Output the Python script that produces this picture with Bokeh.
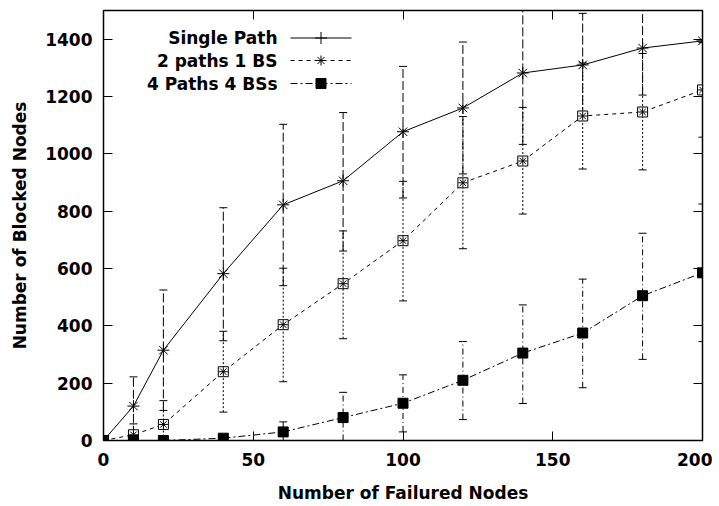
from bokeh.plotting import figure
from bokeh.models import LinearAxis, Range1d, FixedTicker, ColumnDataSource, CustomJSTickFormatter
from bokeh.embed import file_html
from bokeh.resources import INLINE
from bokeh.core.properties import value

# ---------------- data ----------------
failed_nodes = [0, 10, 20, 40, 60, 80, 100, 120, 140, 160, 180, 200]

single_mean = [0, 120, 315, 582, 822, 906, 1077, 1160, 1282, 1310, 1369, 1394]
single_lo = [0, 20, 105, 348, 540, 661, 846, 930, 1033, 1130, 1205, 1230]
single_hi = [0, 222, 525, 812, 1103, 1144, 1305, 1390, 1530, 1490, 1535, 1560]

two_mean = [0, 20, 56, 240, 404, 547, 697, 899, 975, 1132, 1146, 1223]
two_lo = [0, 0, 0, 99, 205, 355, 487, 669, 790, 947, 944, 1058]
two_hi = [0, 58, 139, 381, 601, 731, 904, 1130, 1162, 1317, 1350, 1388]

four_mean = [0, 0, 0, 8, 30, 80, 130, 210, 305, 375, 505, 585]
four_lo = [0, 0, 0, 0, 0, 0, 30, 73, 129, 184, 283, 345]
four_hi = [0, 0, 0, 20, 65, 168, 229, 345, 473, 563, 723, 825]

legend_labels = ["Single Path", "2 paths 1 BS", "4 Paths 4 BSs"]
x_ticks = [0, 50, 100, 150, 200]
y_ticks = [0, 200, 400, 600, 800, 1000, 1200, 1400]
x_title = "Number of Failured Nodes"
y_title = "Number of Blocked Nodes"

FONT = "DejaVu Sans"
FS = "17px"
XMAX, YMAX = 200, 1500
FW, FH = 599, 430

p = figure(frame_width=FW, frame_height=FH, x_range=Range1d(0, XMAX), y_range=Range1d(0, YMAX),
           output_backend="svg", toolbar_location=None,
           min_border_left=103, min_border_right=10, min_border_top=10, min_border_bottom=60)
p.background_fill_color = "white"
p.border_fill_color = "white"
p.outline_line_color = "black"
p.outline_line_width = 1.5
p.xgrid.visible = False
p.ygrid.visible = False

for ax, ticks in ((p.xaxis[0], x_ticks), (p.yaxis[0], y_ticks)):
    ax.ticker = FixedTicker(ticks=ticks)
    ax.major_tick_in = 9
    ax.major_tick_out = 0
    ax.minor_tick_line_color = None
    ax.axis_line_color = "black"
    ax.major_tick_line_color = "black"
    ax.major_label_text_font = FONT
    ax.major_label_text_font_size = FS
    ax.major_label_text_font_style = "bold"
    ax.major_label_text_color = "black"
    ax.axis_label_text_font = FONT
    ax.axis_label_text_font_size = FS
    ax.axis_label_text_font_style = "bold"
    ax.axis_label_text_color = "black"

p.xaxis.axis_label = x_title
p.yaxis.axis_label = y_title
p.xaxis.major_label_standoff = 12
p.yaxis.major_label_standoff = 11
p.xaxis.axis_label_standoff = 14
p.yaxis.axis_label_standoff = 12

for loc, ticks in (("above", x_ticks), ("right", y_ticks)):
    ax = LinearAxis(ticker=FixedTicker(ticks=ticks), major_tick_in=9, major_tick_out=0,
                    minor_tick_line_color=None,
                    formatter=CustomJSTickFormatter(code="return ''"),
                    major_label_standoff=0, axis_line_color="black")
    p.add_layout(ax, loc)

# ---------------- error bars ----------------
def errorbars(lo, hi, dash):
    src = ColumnDataSource(dict(x=failed_nodes, lo=lo, hi=hi))
    p.segment(x0="x", y0="lo", x1="x", y1="hi", source=src, line_color="black",
              line_width=1, line_dash=dash)
    p.scatter(x="x", y="lo", source=src, marker="dash", size=8, line_color="black", line_width=1)
    p.scatter(x="x", y="hi", source=src, marker="dash", size=8, line_color="black", line_width=1)

errorbars(single_lo, single_hi, "9 3")
errorbars(two_lo, two_hi, "2 2")
errorbars(four_lo, four_hi, "6 3 1 3")

# ---------------- series ----------------
p.line(failed_nodes, single_mean, line_color="black", line_width=1)
p.scatter(failed_nodes, single_mean, marker="asterisk", size=12, line_color="black", line_width=1)

p.line(failed_nodes, two_mean, line_color="black", line_width=1, line_dash="4 4")
p.scatter(failed_nodes, two_mean, marker="square", size=10, fill_color="white",
          line_color="black", line_width=1)
p.scatter(failed_nodes, two_mean, marker="asterisk", size=9, line_color="black", line_width=1)

p.line(failed_nodes, four_mean, line_color="black", line_width=1, line_dash="7 3 2 3")
p.scatter(failed_nodes, four_mean, marker="square", size=10, fill_color="black", line_color="black")

# ---------------- legend (label left of sample, gnuplot style) ----------------
def sx(px):  # screen x within frame -> data
    return px / FW * XMAX

def sy(py):  # screen y from frame top -> data
    return YMAX - py / FH * YMAX

rows_y = [sy(27.5), sy(50), sy(73)]
p.text(x=[sx(174)] * 3, y=rows_y, text=legend_labels, text_align="right",
       text_baseline="middle", text_font=value(FONT), text_font_size=FS,
       text_font_style="bold", text_color="black")
dashes = ["solid", "4 4", "7 3 2 3"]
for yy, dsh in zip(rows_y, dashes):
    p.line([sx(187), sx(248)], [yy, yy], line_color="black", line_width=1, line_dash=dsh)
p.scatter([sx(217.5)], [rows_y[0]], marker="cross", size=12, line_color="black", line_width=1)
p.scatter([sx(217.5)], [rows_y[1]], marker="asterisk", size=10, line_color="black", line_width=1)
p.scatter([sx(217.5)], [rows_y[2]], marker="square", size=10, fill_color="black", line_color="black")

open("out.html", "w").write(file_html(p, INLINE))
